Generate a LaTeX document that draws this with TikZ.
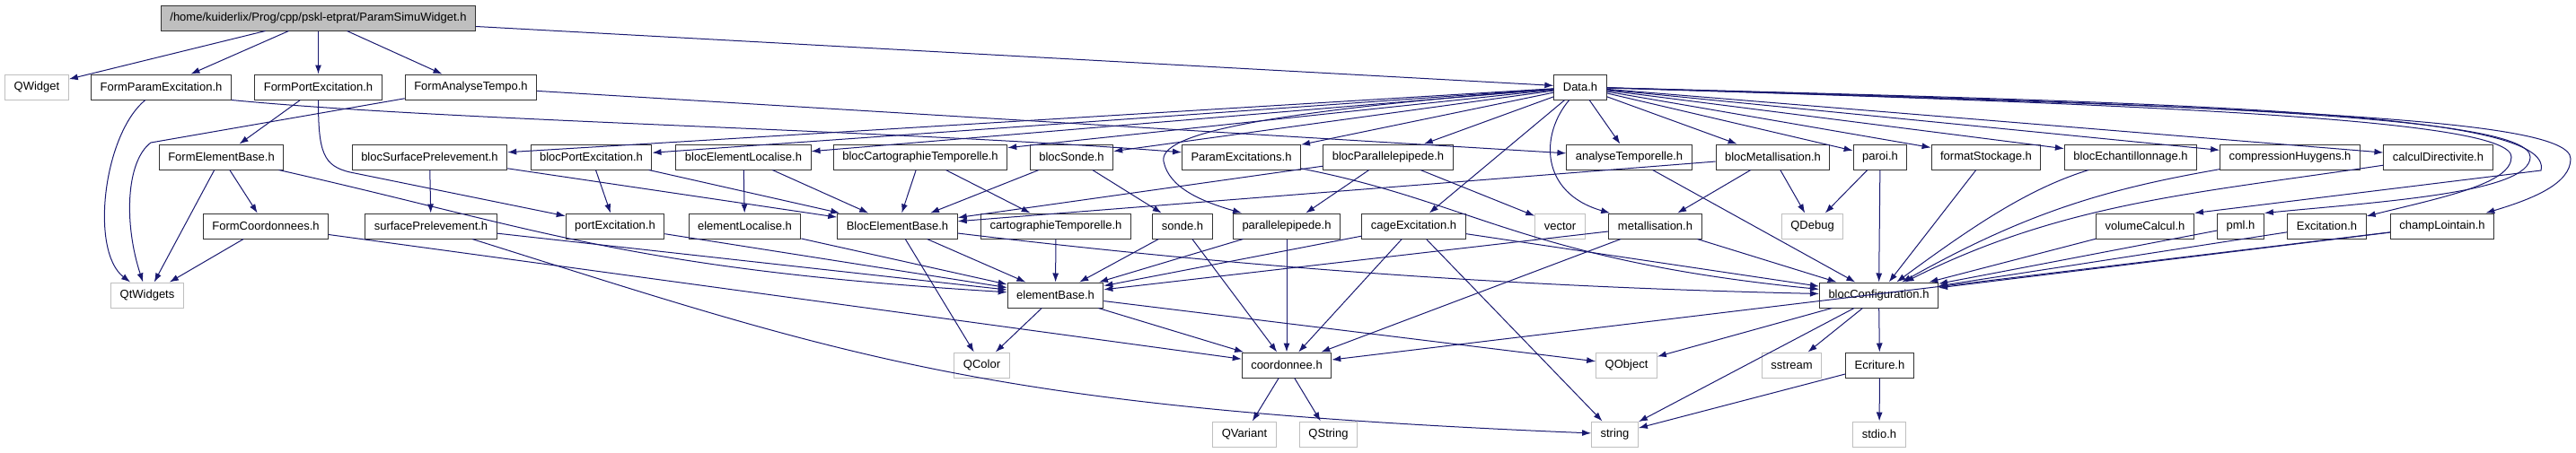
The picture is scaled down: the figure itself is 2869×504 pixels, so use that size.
\documentclass[tikz,border=0pt]{standalone}
\usepackage{fontspec}
\setmainfont{Liberation Sans}
\usetikzlibrary{arrows.meta, positioning}
\definecolor{edgeblue}{HTML}{191970}
\definecolor{sysgray}{HTML}{BFBFBF}

\begin{document}
\begin{tikzpicture}[x=1pt, y=-1pt,
    hfile/.style={draw=black!80, line width=1pt, fill=white, minimum height=28pt, inner xsep=10pt, inner ysep=0pt, font=\fontsize{13}{15}\selectfont},
    sysfile/.style={hfile, draw=sysgray},
    rootfile/.style={hfile, fill=sysgray},
    dep/.style={draw=edgeblue, line width=1pt, -{Latex[length=10pt, width=7pt]}}]
    \useasboundingbox (0,0) rectangle (2869,504);

    \node[rootfile] (root) at (354.5,20) {/home/kuiderlix/Prog/cpp/pskl-etprat/ParamSimuWidget.h};

    \node[sysfile] (qwidget) at (41,97) {QWidget};
    \node[hfile] (formparam) at (179.5,97) {FormParamExcitation.h};
    \node[hfile] (formport) at (354.5,97) {FormPortExcitation.h};
    \node[hfile] (formtempo) at (524.5,97) {FormAnalyseTempo.h};
    \node[hfile] (data) at (1760,97) {Data.h};

    \node[hfile] (formelem) at (246.5,175) {FormElementBase.h};
    \node[hfile] (blocsurf) at (478.5,175) {blocSurfacePrelevement.h};
    \node[hfile] (blocport) at (658.5,175) {blocPortExcitation.h};
    \node[hfile] (bloclocal) at (828,175) {blocElementLocalise.h};
    \node[hfile] (bloccarto) at (1025,175) {blocCartographieTemporelle.h};
    \node[hfile] (blocsonde) at (1193.5,175) {blocSonde.h};
    \node[hfile] (paramexc) at (1382.5,175) {ParamExcitations.h};
    \node[hfile] (blocpara) at (1546,175) {blocParallelepipede.h};
    \node[hfile] (analyse) at (1814.5,175) {analyseTemporelle.h};
    \node[hfile] (blocmetal) at (1974.5,175) {blocMetallisation.h};
    \node[hfile] (paroi) at (2094,175) {paroi.h};
    \node[hfile] (format) at (2212,175) {formatStockage.h};
    \node[hfile] (blocechant) at (2373,175) {blocEchantillonnage.h};
    \node[hfile] (huygens) at (2550.5,175) {compressionHuygens.h};
    \node[hfile] (directiv) at (2715.5,175) {calculDirectivite.h};

    \node[hfile] (formcoord) at (296,252) {FormCoordonnees.h};
    \node[hfile] (surfprel) at (480,252) {surfacePrelevement.h};
    \node[hfile] (portexc) at (685,252) {portExcitation.h};
    \node[hfile] (elemlocal) at (829.5,252) {elementLocalise.h};
    \node[hfile] (blocelem) at (999.5,252) {BlocElementBase.h};
    \node[hfile] (carto) at (1176,252) {cartographieTemporelle.h};
    \node[hfile] (sonde) at (1317,252) {sonde.h};
    \node[hfile] (para) at (1433,252) {parallelepipede.h};
    \node[hfile] (cage) at (1574.5,252) {cageExcitation.h};
    \node[sysfile] (vector) at (1737.5,252) {vector};
    \node[hfile] (metal) at (1843.5,252) {metallisation.h};
    \node[sysfile] (qdebug) at (2018.5,252) {QDebug};
    \node[hfile] (volume) at (2389,252) {volumeCalcul.h};
    \node[hfile] (pml) at (2495.5,252) {pml.h};
    \node[hfile] (excit) at (2591.5,252) {Excitation.h};
    \node[hfile] (lointain) at (2720,252) {champLointain.h};

    \node[sysfile] (qtwidgets) at (164,329) {QtWidgets};
    \node[hfile] (elembase) at (1175.5,329) {elementBase.h};
    \node[hfile] (blocconf) at (2092.5,329) {blocConfiguration.h};

    \node[sysfile] (qcolor) at (1093.5,407) {QColor};
    \node[hfile] (coord) at (1433,407) {coordonnee.h};
    \node[sysfile] (qobject) at (1811.5,407) {QObject};
    \node[sysfile] (sstream) at (1995.5,407) {sstream};
    \node[hfile] (ecriture) at (2093.5,407) {Ecriture.h};

    \node[sysfile] (qvariant) at (1386,484) {QVariant};
    \node[sysfile] (qstring) at (1479.5,484) {QString};
    \node[sysfile] (string) at (1798.5,484) {string};
    \node[sysfile] (stdio) at (2093,484) {stdio.h};

    \draw[dep] (root) -- (qwidget);
    \draw[dep] (root) -- (formparam);
    \draw[dep] (root) -- (formport);
    \draw[dep] (root) -- (formtempo);
    \draw[dep] (root) -- (data);

    \draw[dep] (formparam) .. controls (115,150) and (100,280) .. (qtwidgets);
    \draw[dep] (formparam.south east) .. controls (500,135) and (1000,145) .. (paramexc);
    \draw[dep] (formport) -- (formelem);
    \draw[dep] (formport) .. controls (354.5,170) and (360,185) .. (390,192) -- (portexc);
    \draw[dep] (formtempo) -- (168,159) .. controls (140,180) and (138,250) .. (qtwidgets);
    \draw[dep] (formtempo) -- (analyse);

    \draw[dep] (formelem) -- (qtwidgets);
    \draw[dep] (formelem) -- (formcoord);
    \draw[dep] (formelem) .. controls (600,255) and (700,300) .. (elembase);
    \draw[dep] (formcoord) -- (qtwidgets);
    \draw[dep] (formcoord) -- (coord);

    \draw[dep] (blocsurf) -- (surfprel);
    \draw[dep] (blocsurf) -- (blocelem);
    \draw[dep] (blocport) -- (portexc);
    \draw[dep] (blocport) -- (blocelem);
    \draw[dep] (bloclocal) -- (elemlocal);
    \draw[dep] (bloclocal) -- (blocelem);
    \draw[dep] (bloccarto) -- (blocelem);
    \draw[dep] (bloccarto) -- (carto);
    \draw[dep] (blocsonde) -- (blocelem);
    \draw[dep] (blocsonde) -- (sonde);
    \draw[dep] (paramexc) .. controls (1640,225) and (1700,290) .. (blocconf);
    \draw[dep] (blocpara) -- (blocelem);
    \draw[dep] (blocpara) -- (para);
    \draw[dep] (blocpara) -- (vector);
    \draw[dep] (analyse) -- (blocconf);
    \draw[dep] (blocmetal) -- (blocelem);
    \draw[dep] (blocmetal) -- (metal);
    \draw[dep] (blocmetal) -- (qdebug);
    \draw[dep] (paroi) -- (qdebug);
    \draw[dep] (paroi) -- (blocconf);
    \draw[dep] (format) -- (blocconf);
    \draw[dep] (blocechant) .. controls (2260,210) and (2200,250) .. (blocconf);
    \draw[dep] (huygens) .. controls (2350,210) and (2260,235) .. (blocconf);
    \draw[dep] (directiv) .. controls (2450,215) and (2300,225) .. (blocconf);

    \draw[dep] (data) -- (blocsurf);
    \draw[dep] (data) -- (blocport);
    \draw[dep] (data) -- (bloclocal);
    \draw[dep] (data) -- (bloccarto);
    \draw[dep] (data) -- (blocsonde);
    \draw[dep] (data) -- (paramexc);
    \draw[dep] (data) -- (blocpara);
    \draw[dep] (data) .. controls (1400,125) and (1290,150) .. (1296,180) .. controls (1302,210) and (1340,225) .. (para);
    \draw[dep] (data) -- (cage);
    \draw[dep] (data) .. controls (1715,150) and (1715,215) .. (metal);
    \draw[dep] (data) -- (analyse);
    \draw[dep] (data) -- (blocmetal);
    \draw[dep] (data) -- (paroi);
    \draw[dep] (data) -- (format);
    \draw[dep] (data) -- (blocechant);
    \draw[dep] (data) -- (huygens);
    \draw[dep] (data) -- (directiv);
    \draw[dep] (data) .. controls (2450,118) and (2797,135) .. (2797,175) .. controls (2797,205) and (2720,220) .. (excit);
    \draw[dep] (data) .. controls (2450,116) and (2818,130) .. (2818,175) .. controls (2818,215) and (2650,225) .. (pml.north east);
    \draw[dep] (data) .. controls (2450,115) and (2845,125) .. (2830,190) -- (volume.north east);
    \draw[dep] (data) .. controls (2500,120) and (2863,130) .. (2863,177) .. controls (2863,205) and (2820,222) .. (lointain);

    \draw[dep] (surfprel) -- (elembase);
    \draw[dep] (surfprel) .. controls (950,400) and (1100,455) .. (string);
    \draw[dep] (portexc) -- (elembase);
    \draw[dep] (elemlocal) -- (elembase);
    \draw[dep] (blocelem) -- (qcolor);
    \draw[dep] (blocelem) -- (elembase);
    \draw[dep] (blocelem) .. controls (1400,300) and (1700,320) .. (blocconf);
    \draw[dep] (carto) -- (elembase);
    \draw[dep] (sonde) -- (elembase);
    \draw[dep] (sonde) -- (coord);
    \draw[dep] (para) -- (elembase);
    \draw[dep] (para) -- (coord);
    \draw[dep] (cage) -- (elembase);
    \draw[dep] (cage) -- (coord);
    \draw[dep] (cage) -- (string);
    \draw[dep] (cage) -- (blocconf);
    \draw[dep] (metal) -- (elembase);
    \draw[dep] (metal) -- (coord);
    \draw[dep] (metal) -- (blocconf);
    \draw[dep] (volume) -- (blocconf);
    \draw[dep] (pml) -- (blocconf);
    \draw[dep] (excit) -- (blocconf);
    \draw[dep] (lointain) -- (blocconf);
    \draw[dep] (lointain) -- (coord);

    \draw[dep] (elembase) -- (qcolor);
    \draw[dep] (elembase) -- (coord);
    \draw[dep] (elembase) -- (qobject);
    \draw[dep] (blocconf) -- (qobject);
    \draw[dep] (blocconf) -- (sstream);
    \draw[dep] (blocconf) -- (string);
    \draw[dep] (blocconf) -- (ecriture);
    \draw[dep] (coord) -- (qvariant);
    \draw[dep] (coord) -- (qstring);
    \draw[dep] (ecriture) -- (string);
    \draw[dep] (ecriture) -- (stdio);
\end{tikzpicture}
\end{document}
